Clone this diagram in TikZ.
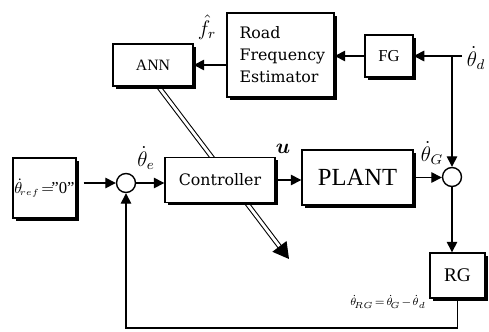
\documentclass[tikz,border=0pt]{standalone}
\usepackage{amsmath,amssymb}
\usepackage{fontspec}
\setmainfont{Liberation Serif}
\newfontfamily\wideserif{DejaVu Serif}
\usetikzlibrary{arrows.meta,shadows}

\begin{document}
\begin{tikzpicture}[x=0.02cm,y=-0.02cm,line width=0.8pt,
  >={Triangle[length=6pt,width=6pt]},
  blk/.style={draw,fill=white,inner sep=0pt,
    drop shadow={shadow xshift=1.6pt,shadow yshift=-1.6pt,fill=black,opacity=1}},
  sumpt/.style={draw,circle,fill=white,minimum size=0.38cm,inner sep=0pt},
  lab/.style={inner sep=1pt}]
  \useasboundingbox (0,0) rectangle (489,331);
  % adaptation path (passes under the controller)
  \coordinate (annout) at (158,86);
  \coordinate (adapt) at (289,259);
  \draw[double,double distance=1.6pt,line width=0.6pt,
    -{Triangle[length=9pt,width=10pt]}] (annout) -- (adapt);
  % blocks
  \node[blk,minimum width=2.14cm,minimum height=1.68cm] (est) at (280.5,55) {};
  \node[anchor=west,align=left,font=\wideserif\fontsize{9}{12.5}\selectfont]
    (esttxt) at (233,55) {Road\\Frequency\\Estimator};
  \node[blk,minimum width=1.6cm,minimum height=0.84cm,font=\fontsize{9}{11}\selectfont]
    (ann) at (153,65) {ANN};
  \node[blk,minimum width=0.96cm,minimum height=0.84cm,font=\fontsize{9.5}{11}\selectfont]
    (fg) at (389,56) {FG};
  \node[blk,minimum width=1.26cm,minimum height=1.2cm,font=\fontsize{9.5}{11}\selectfont]
    (ref) at (44.5,188) {$\dot\theta_{\!\scriptscriptstyle ref}\!=\!$\symbol{34}0\symbol{34}};
  \node[blk,minimum width=2.2cm,minimum height=0.9cm,font=\wideserif\fontsize{9}{11}\selectfont]
    (ctrl) at (220,180) {Controller};
  \node[blk,minimum width=2.22cm,minimum height=1.1cm,font=\fontsize{14}{16}\selectfont]
    (plant) at (357.5,177.5) {PLANT};
  \node[blk,minimum width=1.1cm,minimum height=0.9cm,font=\fontsize{11}{13}\selectfont]
    (rg) at (457.5,275.5) {RG};
  \node[sumpt] (c1) at (126,183) {};
  \node[sumpt] (c2) at (452,177) {};
  \coordinate (thd) at (462,56);
  \coordinate (fbc) at (126,328);
  % signals
  \draw[->] (thd) -- (fg.east |- thd);
  \draw[->] (c2 |- thd) -- (c2.north);
  \draw[->] (fg.west) -- (fg.west -| est.east);
  \draw[->] (est.west |- ann.east) -- (ann.east);
  \draw[->] ([xshift=4pt]ref.east |- c1) -- (c1.west);
  \draw[->] (c1.east) -- (c1 -| ctrl.west);
  \draw[->] (ctrl.east) -- (ctrl.east -| plant.west);
  \draw[->] (plant.east) -- (plant.east -| c2.west);
  \draw[->] (c2.south) -- (c2.south |- rg.north);
  \draw[->] (rg.south) |- (fbc) -- (c1.south);
  % labels
  \node[lab,font=\large] (fhat) at (207,27) {$\hat{f}_{r}$};
  \node[lab,font=\large] (thdlab) at (476,58) {$\dot\theta_{d}$};
  \node[lab,font=\large] (thelab) at (146,158) {$\dot\theta_{e}$};
  \node[lab,font=\large] (ulab) at (283,149) {$\boldsymbol{u}$};
  \node[lab,font=\large] (thglab) at (432,153) {$\dot\theta_{G}$};
  \node[lab,font=\fontsize{6.5}{7}\selectfont] (eqlab) at (388,302)
    {$\dot\theta_{\!RG}\!=\!\dot\theta_{\!G}\!-\!\dot\theta_{d}$};
\end{tikzpicture}
\end{document}
